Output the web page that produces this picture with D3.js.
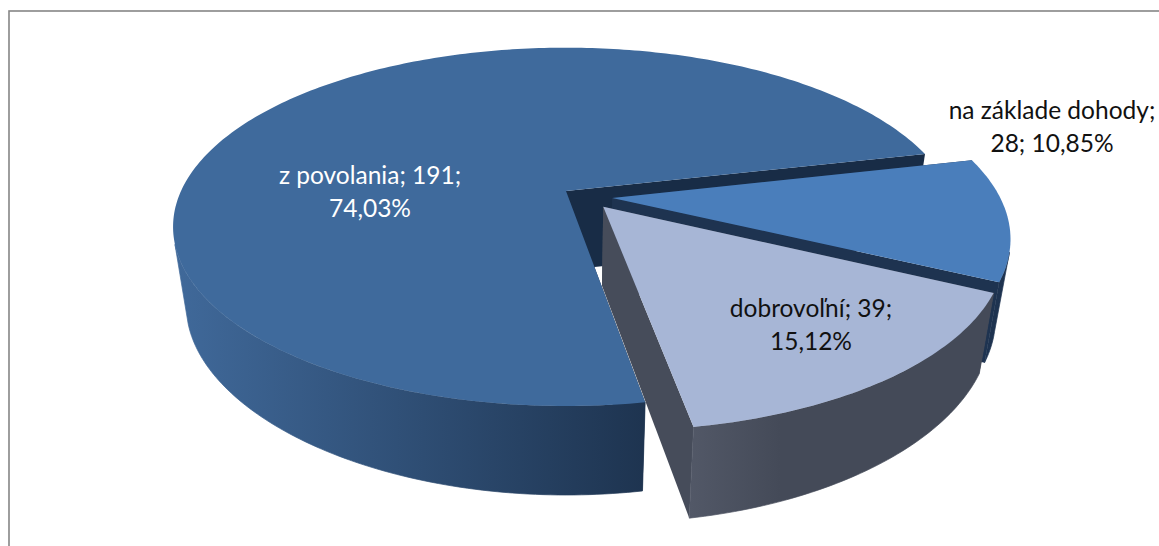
<!DOCTYPE html>
<html>
<head>
<meta charset="utf-8">
<script src="https://cdn.jsdelivr.net/npm/d3@7"></script>
<style>
  html, body { margin: 0; padding: 0; background: #fff; overflow: hidden; }
  text { font-family: Lato, "Open Sans", sans-serif; font-size: 24.5px; }
</style>
</head>
<body>
<script>
// data
var categories = ["z povolania", "na základe dohody", "dobrovoľní"];
var counts = [191, 28, 39];

// look of each slice
var topColors = ["#3f6a9c", "#4a7ebb", "#a7b6d6"];
var wallColors = ["#182c46", "#1e3350", "#464c5a"];
var sideFrom = ["#40699a", "#1e3350", "#525867"];
var sideTo = ["#1e3450", "#1e3350", "#444a58"];
var textColors = ["#fff", "#111", "#111"];

// how far a slice is pulled out, in disc units [right, front]
var pulled = [[0, 0], [0.119, 0.04], [0.095, 0.09]];

// label centre, pixels
var labelX = [370, 1052, 811];
var labelY = [175, 110, 308];

var width = 1159, height = 546;
var firstAngle = 170.5 * Math.PI / 180;
var hidden = 107 * Math.PI / 180; // outer wall is visible between hidden and 2pi-hidden

var svg = d3.select("body").append("svg")
  .attr("width", width).attr("height", height);

// top face and bottom face of the disc
var topFace = { cx: 566, cy: 191, a: 385, b: 172, kx: 0.2, ky: 0.2 };
var botFace = { cx: 566, cy: 270, a: 372, b: 171, kx: 0.2, ky: 0.24 };

function project(face, u, v) {
  return [face.cx + face.a * u / (1 - face.kx * v), face.cy + face.b * v / (1 - face.ky * v)];
}

// point on the rim, angle clockwise from 12 o'clock
function rim(face, ang, off) {
  return project(face, Math.sin(ang) + off[0], -Math.cos(ang) + off[1]);
}

function arcPoints(face, a0, a1, off) {
  var n = Math.max(2, Math.ceil(Math.abs(a1 - a0) * 60));
  return d3.range(n + 1).map(function(i) {
    return rim(face, a0 + (a1 - a0) * i / n, off);
  });
}

var line = d3.line().curve(d3.curveLinear);

var pie = d3.pie().sort(null)
  .startAngle(firstAngle).endAngle(firstAngle + 2 * Math.PI);
var slices = pie(counts);
var total = d3.sum(counts);

var defs = svg.append("defs");

// frame
svg.append("rect")
  .attr("x", 9).attr("y", 11)
  .attr("width", width + 20).attr("height", height + 20)
  .attr("fill", "#fff").attr("stroke", "#868686").attr("stroke-width", 1.6);

// back to front: main slice, small slice, light slice
[0, 1, 2].forEach(function(i) {
  var s = slices[i], off = pulled[i];
  var g = svg.append("g");
  var apexTop = project(topFace, off[0], off[1]);
  var apexBot = project(botFace, off[0], off[1]);

  // straight walls
  [s.startAngle, s.endAngle].forEach(function(ang) {
    var wall = [apexTop, rim(topFace, ang, off), rim(botFace, ang, off), apexBot];
    g.append("path").attr("d", line(wall) + "Z").attr("fill", wallColors[i]);
  });

  // outer wall, only the part that faces the viewer
  var a0 = s.startAngle, a1 = s.endAngle;
  var spans = [[hidden, 2 * Math.PI - hidden], [hidden + 2 * Math.PI, 4 * Math.PI - hidden]];
  spans.forEach(function(sp, k) {
    var from = Math.max(a0, sp[0]), to = Math.min(a1, sp[1]);
    if (to <= from) return;
    var upper = arcPoints(topFace, from, to, off);
    var lower = arcPoints(botFace, to, from, off);
    var pts = upper.concat(lower);
    var xs = d3.extent(pts, function(p) { return p[0]; });
    var id = "side" + i + "_" + k;
    var grad = defs.append("linearGradient").attr("id", id)
      .attr("gradientUnits", "userSpaceOnUse")
      .attr("x1", xs[0]).attr("x2", xs[1]).attr("y1", 0).attr("y2", 0);
    grad.append("stop").attr("offset", 0).attr("stop-color", sideFrom[i]);
    grad.append("stop").attr("offset", i == 2 ? 0.3 : 1).attr("stop-color", sideTo[i]);
    // thin stroke closes the seams between neighbouring polygons
    g.append("path").attr("d", line(pts) + "Z")
      .attr("fill", "url(#" + id + ")")
      .attr("stroke", "url(#" + id + ")").attr("stroke-width", 0.7);
  });

  // top face
  var face = [apexTop].concat(arcPoints(topFace, s.startAngle, s.endAngle, off));
  g.append("path").attr("d", line(face) + "Z").attr("fill", topColors[i]);
});

// labels
slices.forEach(function(s, i) {
  var pct = (100 * s.value / total).toFixed(2).replace(".", ",") + "%";
  var lines = i == 1
    ? [categories[i] + ";", s.value + "; " + pct]
    : [categories[i] + "; " + s.value + ";", pct];
  lines.forEach(function(t, k) {
    svg.append("text")
      .attr("x", labelX[i]).attr("y", labelY[i] + k * 33.5)
      .attr("dy", "0.35em")
      .attr("text-anchor", "middle")
      .attr("fill", textColors[i])
      .text(t);
  });
});
</script>
</body>
</html>
